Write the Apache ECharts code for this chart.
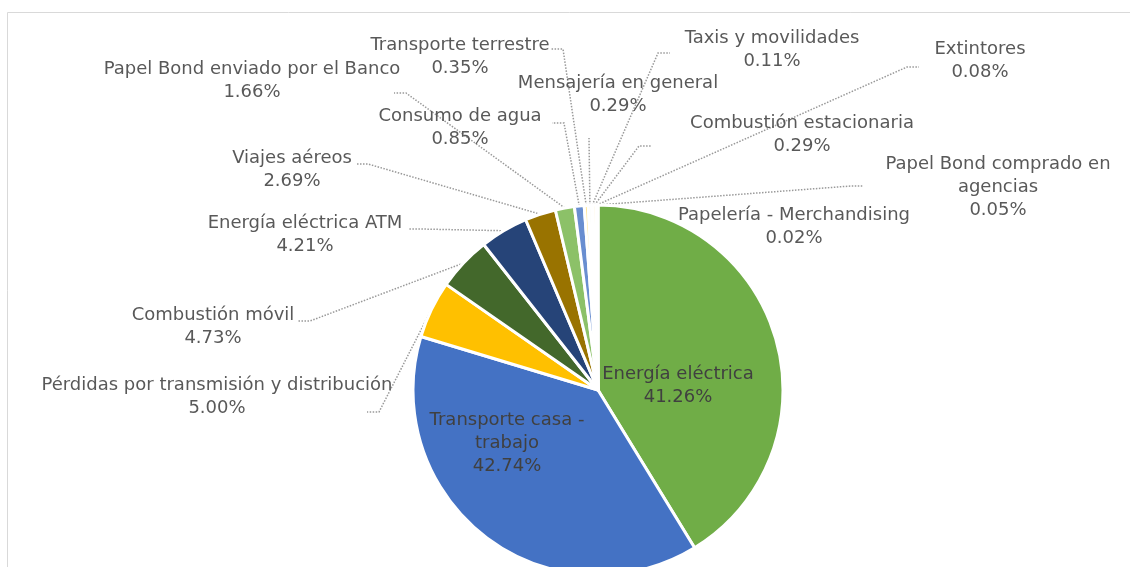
<!DOCTYPE html>
<html>
<head>
<meta charset="utf-8">
<script src="https://cdn.jsdelivr.net/npm/echarts@6/dist/echarts.min.js"></script>
<style>
  html, body { margin: 0; padding: 0; background: #fff; }
  #chart { width: 1130px; height: 567px; }
</style>
</head>
<body>
<div id="chart"></div>
<script>
// categorías en el orden del gráfico (sentido horario desde arriba)
const categorias = [
    'Energía eléctrica',
    'Transporte casa -\ntrabajo',
    'Pérdidas por transmisión y distribución',
    'Combustión móvil',
    'Energía eléctrica ATM',
    'Viajes aéreos',
    'Papel Bond enviado por el Banco',
    'Consumo de agua',
    'Transporte terrestre',
    'Mensajería en general',
    'Taxis y movilidades',
    'Combustión estacionaria',
    'Extintores',
    'Papel Bond comprado en\nagencias',
    'Papelería - Merchandising'
];
// tamaño de cada porción tal como se ve en la torta
const valores = [41.26, 38.41, 5.00, 4.73, 4.21, 2.69, 1.66, 0.85, 0.35, 0.29, 0.11, 0.29, 0.08, 0.05, 0.02];
// porcentajes escritos en las etiquetas
const etiquetas = ['41.26%', '42.74%', '5.00%', '4.73%', '4.21%', '2.69%', '1.66%', '0.85%', '0.35%', '0.29%', '0.11%', '0.29%', '0.08%', '0.05%', '0.02%'];

const colores = ['#70AD47', '#4472C4', '#FFC000', '#43682B', '#264478', '#997300', '#8CC168', '#698ED0',
    '#FFE699', '#E2F0D9', '#DAE3F3', '#FFF2CC', '#E2F0D9', '#DAE3F3', '#FFF2CC'];

// posición de cada etiqueta (centro) y punto donde llega la línea guía
const posEtiqueta = [
    [678, 386], [507, 443], [217, 397], [213, 327], [305, 235], [292, 170], [252, 81], [460, 128],
    [460, 57], [618, 95], [772, 50], [802, 135], [980, 61], [998, 187], [794, 227]
];
const finLinea = [
    null, null, [367, 412], [298, 321], [409, 229], [356, 164], [394, 93], [552, 123],
    [551, 49], [589, 138], [670, 53], [651, 146], [919, 67], [863, 186], null
];

const chart = echarts.init(document.getElementById('chart'));

const datos = valores.map((v, i) => {
    const item = {
        value: v,
        name: categorias[i],
        itemStyle: { color: colores[i] }
    };
    if (i < 2) {
        item.label = { position: 'inside', color: '#404040' };
        item.labelLine = { show: false };
    }
    if (i === 14) {
        item.labelLine = { show: false };
    }
    return item;
});

const option = {
    animation: false,
    backgroundColor: '#fff',
    graphic: [{
        type: 'rect',
        shape: { x: 7.5, y: 12.5, width: 1200, height: 600 },
        style: { fill: 'none', stroke: '#d9d9d9', lineWidth: 1 },
        silent: true
    }],
    series: [{
        type: 'pie',
        center: [598, 390],
        radius: 185,
        startAngle: 90,
        clockwise: true,
        avoidLabelOverlap: false,
        itemStyle: { borderColor: '#fff', borderWidth: 3 },
        label: {
            show: true,
            position: 'outside',
            fontFamily: 'DejaVu Sans',
            fontSize: 18,
            lineHeight: 23,
            color: '#595959',
            align: 'center',
            formatter: p => p.name + '\n' + etiquetas[p.dataIndex]
        },
        labelLine: {
            show: true,
            length: 10,
            length2: 10,
            lineStyle: { color: '#999999', width: 1.5, type: [1.5, 1.5] }
        },
        labelLayout: params => {
            const i = params.dataIndex;
            const pos = posEtiqueta[i];
            const res = { x: pos[0], y: pos[1], align: 'center', verticalAlign: 'middle' };
            const fin = finLinea[i];
            if (fin && params.labelLinePoints) {
                const inicio = params.labelLinePoints[0];
                // tramo horizontal corto hacia la torta
                const dir = fin[0] < inicio[0] ? 1 : -1;
                const codo = i === 9 ? fin : [fin[0] + dir * 12, fin[1]];
                res.labelLinePoints = [inicio, codo, fin];
            }
            return res;
        },
        data: datos
    }]
};
chart.setOption(option);
window.addEventListener('resize', () => chart.resize());
</script>
</body>
</html>
